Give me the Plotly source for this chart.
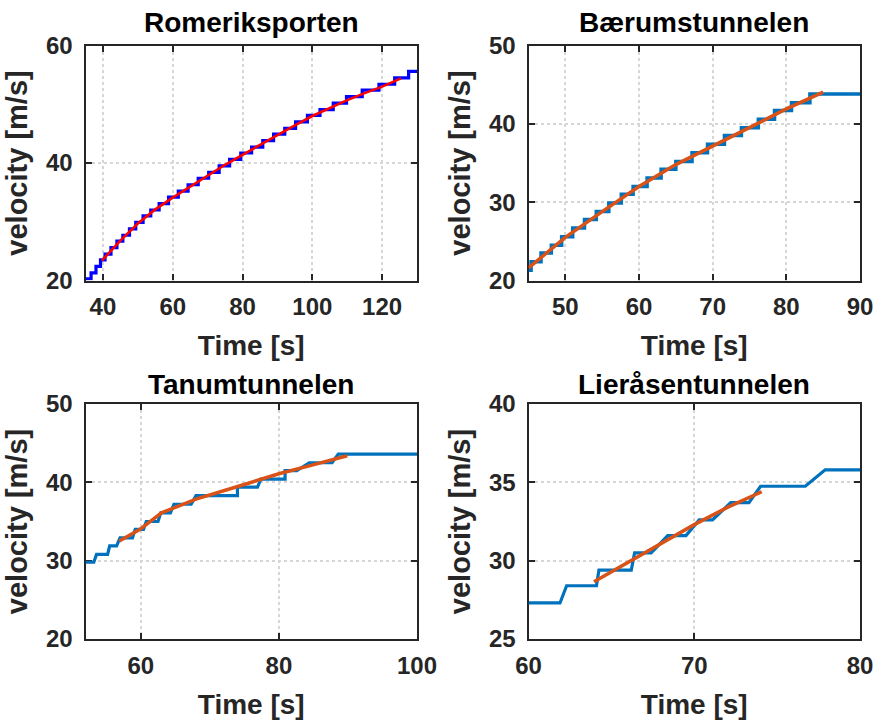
import plotly.graph_objects as go

# ---------------- data ----------------
# Romeriksporten (staircase measurement + fitted curve)
romer_t = [35, 36.6, 38.0, 39.3, 40.6, 42.3, 44.0, 45.7, 47.6, 49.4,
           51.5, 53.7, 56.1, 58.8, 61.6, 64.4, 67.3, 70.3, 73.3, 76.3,
           79.5, 82.6, 85.8, 88.9, 92.1, 95.2, 98.6, 102.2, 106.0, 109.8,
           114.3, 119.1, 123.6, 127.6, 130]
romer_v = [20.3, 21.3, 22.4, 23.5, 24.5, 25.6, 26.7, 27.7, 28.8, 29.9,
           31.0, 32.0, 33.1, 34.2, 35.2, 36.3, 37.4, 38.4, 39.5, 40.6,
           41.7, 42.7, 43.8, 44.9, 45.9, 47.0, 48.1, 49.1, 50.2, 51.3,
           52.4, 53.4, 54.5, 55.6, 55.6]
romer_fit_t = [39.7, 45, 50, 55, 60, 65, 70, 75, 80, 85, 90, 95, 100, 105, 110, 115, 120, 125.4]
romer_fit_v = [23.4, 26.8, 29.7, 32.1, 34.1, 36.0, 37.8, 39.7, 41.4, 43.1, 44.8, 46.4, 48.0, 49.4, 50.7, 51.9, 53.0, 54.4]

# Bærumstunnelen
baerum_t = [45, 45.35, 46.7, 48.1, 49.5, 51.0, 52.6, 54.2, 55.9, 57.6,
            59.2, 61.1, 63.0, 65.0, 67.2, 69.3, 71.6, 73.9, 76.2, 78.4,
            80.7, 83.2, 90]
baerum_v = [21.3, 22.4, 23.5, 24.5, 25.6, 26.7, 27.8, 28.8, 29.9, 31.0,
            32.0, 33.1, 34.2, 35.2, 36.3, 37.4, 38.5, 39.5, 40.6, 41.7,
            42.7, 43.8, 43.8]
baerum_fit_t = [45, 50, 55, 60, 65, 70, 75, 80, 85]
baerum_fit_v = [21.6, 25.5, 28.8, 32.0, 34.8, 37.2, 39.5, 41.9, 44.05]

# Tanumtunnelen
tanum_t = [52, 53.2, 53.6, 55.2, 55.5, 56.5, 57.0, 58.8, 59.2, 60.4,
           60.8, 62.5, 62.9, 64.3, 64.8, 67.3, 68.0, 74.0, 74.0, 76.9,
           77.4, 80.9, 80.9, 82.6, 84.4, 87.7, 88.6, 100]
tanum_v = [29.8, 29.8, 30.8, 30.8, 31.9, 31.9, 32.9, 32.9, 34.0, 34.0,
           35.0, 35.0, 36.1, 36.1, 37.2, 37.2, 38.3, 38.3, 39.4, 39.4,
           40.4, 40.4, 41.5, 41.5, 42.5, 42.5, 43.6, 43.6]
tanum_fit_t = [56.9, 59.9, 63.0, 68.1, 73.8, 77.2, 80.0, 84.8, 89.9]
tanum_fit_v = [32.5, 34.0, 36.1, 37.9, 39.4, 40.3, 41.1, 42.2, 43.4]

# Lieråsentunnelen
lier_t = [60, 61.9, 62.3, 64.1, 64.25, 66.2, 66.4, 67.4, 68.4, 69.5,
          70.3, 71.1, 72.2, 73.3, 74.0, 76.7, 77.9, 80]
lier_v = [27.3, 27.3, 28.4, 28.4, 29.4, 29.4, 30.5, 30.5, 31.6, 31.6,
          32.6, 32.6, 33.7, 33.7, 34.75, 34.75, 35.8, 35.8]
lier_fit_t = [63.95, 66, 68, 70, 72, 74.07]
lier_fit_v = [28.65, 29.9, 31.1, 32.3, 33.4, 34.4]

titles = ["Romeriksporten", "Bærumstunnelen", "Tanumtunnelen", "Lieråsentunnelen"]
x_ranges = [[35, 130], [45, 90], [52, 100], [60, 80]]
y_ranges = [[20, 60], [20, 50], [20, 50], [25, 40]]
x_dticks = [20, 10, 20, 10]
y_dticks = [20, 10, 10, 5]

# ---------------- figure ----------------
W, H = 879, 723
FONT = "Liberation Sans, Arial, Helvetica, sans-serif"
DARK = "#262626"

col_px = [(85.5, 417.0), (528.5, 860.0)]
row_px = [(45.5, 280.5), (404.0, 639.0)]

fig = go.Figure()

series = [
    (romer_t, romer_v, romer_fit_t, romer_fit_v, "#0000FF", "#FF0000", "hv", 3.2, 2.6),
    (baerum_t, baerum_v, baerum_fit_t, baerum_fit_v, "#0072BD", "#D95319", "hv", 3.5, 3.5),
    (tanum_t, tanum_v, tanum_fit_t, tanum_fit_v, "#0072BD", "#D95319", "linear", 3.2, 3.5),
    (lier_t, lier_v, lier_fit_t, lier_fit_v, "#0072BD", "#D95319", "linear", 3.2, 3.5),
]

for i, (t, v, ft, fv, c1, c2, shape, w1, w2) in enumerate(series):
    sfx = "" if i == 0 else str(i + 1)
    fig.add_trace(go.Scatter(x=t, y=v, mode="lines", line=dict(color=c1, width=w1, shape=shape),
                             xaxis="x" + sfx, yaxis="y" + sfx, showlegend=False, hoverinfo="skip"))
    fig.add_trace(go.Scatter(x=ft, y=fv, mode="lines", line=dict(color=c2, width=w2),
                             xaxis="x" + sfx, yaxis="y" + sfx, showlegend=False, hoverinfo="skip"))

layout = dict(width=W, height=H, autosize=False, margin=dict(l=0, r=0, t=0, b=0),
              paper_bgcolor="white", plot_bgcolor="white", showlegend=False)

annotations = []
for i in range(4):
    r, c = divmod(i, 2)
    x0, x1 = col_px[c]
    y0, y1 = row_px[r]
    sfx = "" if i == 0 else str(i + 1)
    common = dict(showline=True, linecolor=DARK, linewidth=2.2, mirror="ticks",
                  ticks="inside", ticklen=6, tickwidth=2, tickcolor=DARK,
                  showgrid=True, gridcolor="#d6d6d6", gridwidth=2, griddash="3px,3px",
                  zeroline=False, layer="below traces", automargin=False,
                  tickfont=dict(family=FONT, size=24, color=DARK, weight="bold"))
    layout["xaxis" + sfx] = dict(common, domain=[x0 / W, x1 / W], range=x_ranges[i],
                                 dtick=x_dticks[i], tick0=0, anchor="y" + sfx,
                                 ticklabelstandoff=4,
                                 title=dict(text="Time [s]", standoff=16,
                                            font=dict(family=FONT, size=28, color=DARK, weight="bold")))
    layout["yaxis" + sfx] = dict(common, domain=[1 - y1 / H, 1 - y0 / H], range=y_ranges[i],
                                 dtick=y_dticks[i], tick0=0, anchor="x" + sfx,
                                 ticklabelstandoff=6,
                                 title=dict(text="velocity [m/s]", standoff=10,
                                            font=dict(family=FONT, size=29, color=DARK, weight="bold")))
    annotations.append(dict(text=titles[i], xref="paper", yref="paper",
                            x=(x0 + x1) / 2 / W, y=1 - (22 if r == 0 else 384) / H,
                            xanchor="center", yanchor="middle", showarrow=False,
                            font=dict(family=FONT, size=28, color="black", weight="bold")))

layout["annotations"] = annotations
fig.update_layout(**layout)
fig.write_html("out.html", config={"displayModeBar": False},
               post_script="document.body.style.margin='0px';document.body.style.overflow='hidden';")
